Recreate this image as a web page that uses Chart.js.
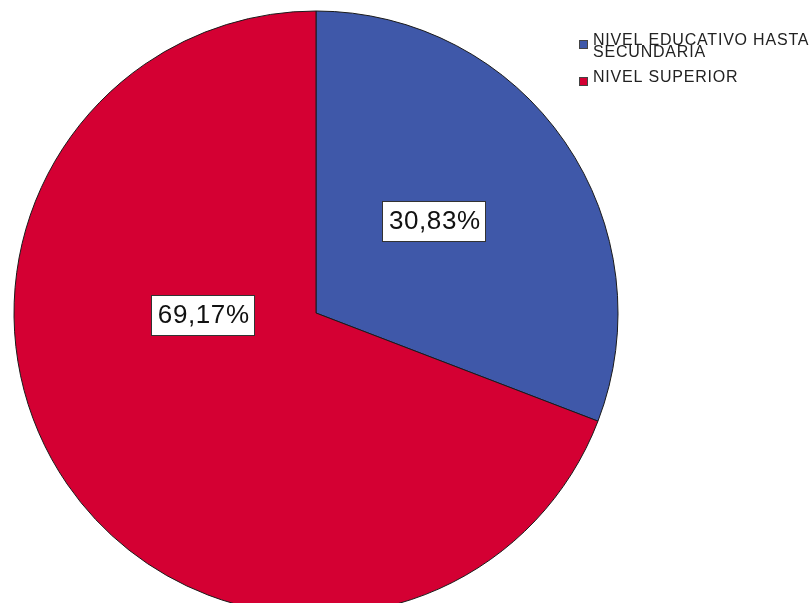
<!DOCTYPE html>
<html>
<head>
<meta charset="utf-8">
<script src="https://cdn.jsdelivr.net/npm/chart.js@4/dist/chart.umd.min.js"></script>
<style>
  html, body { margin: 0; padding: 0; background: #fff; }
  #chart { display: block; }
</style>
</head>
<body>
<canvas id="chart" width="809" height="603"></canvas>
<script>
// Nivel educativo (porcentaje)
const categories = ['NIVEL EDUCATIVO HASTA SECUNDARIA', 'NIVEL SUPERIOR'];
const legendLines = [['NIVEL EDUCATIVO HASTA', 'SECUNDARIA'], ['NIVEL SUPERIOR']];
const percentages = [30.83, 69.17];
const sliceColors = ['#3F58A9', '#D40033'];

// label anchors as fractions of the radius, measured from the centre
const labelAnchors = [[0.39, -0.305], [-0.375, 0.005]];

function formatPct(v) {
    return v.toFixed(2).replace('.', ',') + '%';
}

// white boxed percentage labels on the slices
const sliceLabels = {
    id: 'sliceLabels',
    afterDatasetsDraw(chart) {
        const ctx = chart.ctx;
        const arcs = chart.getDatasetMeta(0).data;
        ctx.save();
        ctx.font = '26px "Liberation Sans", Arial, sans-serif';
        ctx.letterSpacing = '0.6px';
        ctx.textAlign = 'center';
        ctx.textBaseline = 'middle';
        arcs.forEach((arc, i) => {
            const r = arc.outerRadius;
            const x = arc.x + labelAnchors[i][0] * r;
            const y = arc.y + labelAnchors[i][1] * r;
            const text = formatPct(percentages[i]);
            const w = 103, h = 40;
            const bx = Math.round(x - w / 2) + 0.5, by = Math.round(y - h / 2) + 0.5;
            ctx.fillStyle = '#fff';
            ctx.fillRect(bx, by, w, h);
            ctx.strokeStyle = '#333';
            ctx.lineWidth = 1;
            ctx.strokeRect(bx, by, w, h);
            ctx.fillStyle = '#111';
            ctx.fillText(text, x + 1, y + 1);
        });
        ctx.restore();
    }
};

// legend in the top right corner
const cornerLegend = {
    id: 'cornerLegend',
    afterDraw(chart) {
        const ctx = chart.ctx;
        const colors = chart.data.datasets[0].backgroundColor;
        ctx.save();
        ctx.font = '16px "Liberation Sans", Arial, sans-serif';
        ctx.letterSpacing = '0.8px';
        ctx.textBaseline = 'alphabetic';
        ctx.textAlign = 'left';
        let baseline = 45;
        legendLines.forEach((lines, i) => {
            ctx.fillStyle = colors[i];
            ctx.fillRect(579.5, baseline - 4.5, 8, 8);
            ctx.strokeStyle = '#444';
            ctx.lineWidth = 1;
            ctx.strokeRect(579.5, baseline - 4.5, 8, 8);
            ctx.fillStyle = '#222';
            lines.forEach((line, j) => {
                ctx.fillText(line, 593, baseline + j * 12);
            });
            baseline += (lines.length - 1) * 12 + 25;
        });
        ctx.restore();
    }
};

new Chart(document.getElementById('chart'), {
    type: 'pie',
    data: {
        labels: categories,
        datasets: [{
            data: percentages,
            backgroundColor: sliceColors,
            borderColor: '#1a1a1a',
            borderWidth: 1,
            radius: 302
        }]
    },
    options: {
        responsive: false,
        animation: false,
        layout: { padding: { left: 14, right: 191, top: 23, bottom: 0 } },
        plugins: {
            legend: { display: false },
            tooltip: { enabled: false }
        }
    },
    plugins: [sliceLabels, cornerLegend]
});
</script>
</body>
</html>
